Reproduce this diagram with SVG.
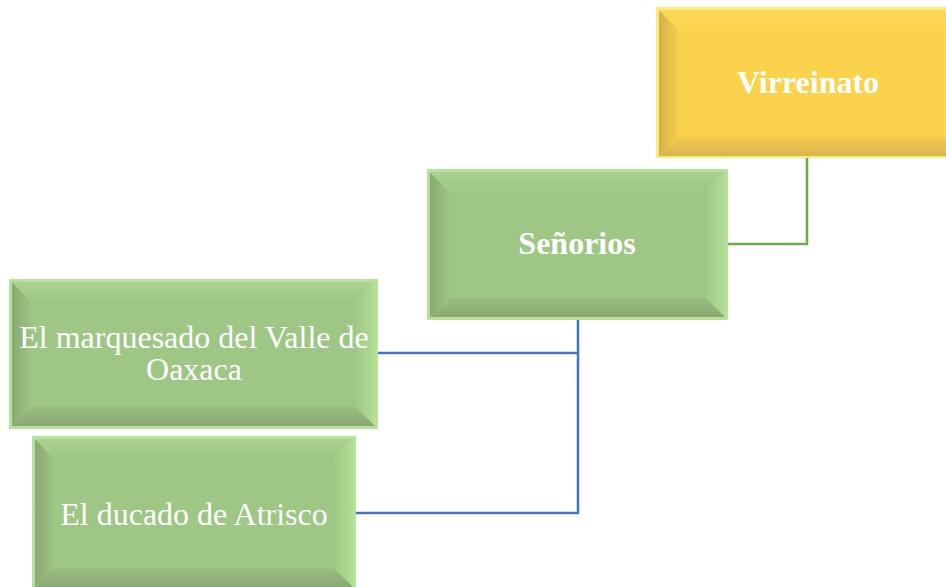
<svg xmlns="http://www.w3.org/2000/svg" width="946" height="587" viewBox="0 0 946 587">
<defs>
<linearGradient id="gLg" x1="0" y1="0" x2="1" y2="0"><stop offset="0" stop-color="#8aa973"/><stop offset="1" stop-color="#9cc383"/></linearGradient>
<linearGradient id="gRg" x1="0" y1="0" x2="1" y2="0"><stop offset="0" stop-color="#a0c987"/><stop offset="1" stop-color="#b0df93"/></linearGradient>
<linearGradient id="gTg" x1="0" y1="0" x2="0" y2="1"><stop offset="0" stop-color="#aad490"/><stop offset="1" stop-color="#9ec685"/></linearGradient>
<linearGradient id="gBg" x1="0" y1="0" x2="0" y2="1"><stop offset="0" stop-color="#98bd80"/><stop offset="1" stop-color="#8ba973"/></linearGradient>
<linearGradient id="yLg" x1="0" y1="0" x2="1" y2="0"><stop offset="0" stop-color="#d4b04c"/><stop offset="1" stop-color="#f5cd4b"/></linearGradient>
<linearGradient id="yTg" x1="0" y1="0" x2="0" y2="1"><stop offset="0" stop-color="#fdd95a"/><stop offset="1" stop-color="#fbd24c"/></linearGradient>
<linearGradient id="yBg" x1="0" y1="0" x2="0" y2="1"><stop offset="0" stop-color="#f2ca4b"/><stop offset="1" stop-color="#d8b44e"/></linearGradient>
<style>
.t{font-family:"Liberation Serif","Times New Roman",serif;fill:#fff;text-anchor:middle;font-size:32px}
.b{font-weight:bold}
.gOut{fill:#b6e29c}
.gFace{fill:#9ec685}
.gL{fill:url(#gLg)}
.gT{fill:url(#gTg)}
.gR{fill:url(#gRg)}
.gB{fill:url(#gBg)}
.yOut{fill:#fdec7a}
.yFace{fill:#fbd24b}
.yL{fill:url(#yLg)}
.yT{fill:url(#yTg)}
.yB{fill:url(#yBg)}
.c{fill:none;stroke-width:2.5}
</style>
</defs>
<rect width="946" height="587" fill="#fff"/>
<g id="connectors">
<polyline class="c" stroke="#6aac46" points="807,157 807,244 727,244"/>
<polyline class="c" stroke="#4472c4" points="578,319 578,513 355,513"/>
<polyline class="c" stroke="#4472c4" points="578,353 377,353"/>
</g>
<g id="virreinato">
<rect class="yOut" x="656" y="7" width="292" height="151"/>
<polygon class="yL" points="659,10 678,29 678,137 659,156"/>
<polygon class="yT" points="659,10 948,10 948,29 678,29"/>
<polygon class="yB" points="659,156 678,137 948,137 948,156"/>
<rect class="yFace" x="678" y="29" width="270" height="108"/>
<text class="t b" x="808" y="93">Virreinato</text>
</g>
<g id="senorios">
<rect class="gOut" x="427" y="169" width="301" height="151"/>
<polygon class="gL" points="430,172 449,191 449,298 430,317"/>
<polygon class="gT" points="430,172 725,172 706,191 449,191"/>
<polygon class="gR" points="725,172 725,317 706,298 706,191"/>
<polygon class="gB" points="430,317 449,298 706,298 725,317"/>
<rect class="gFace" x="449" y="191" width="257" height="107"/>
<text class="t b" x="577" y="254">Señorios</text>
</g>
<g id="marquesado">
<rect class="gOut" x="9" y="279" width="369" height="150"/>
<polygon class="gL" points="12,282 31,301 31,407 12,426"/>
<polygon class="gT" points="12,282 375,282 356,301 31,301"/>
<polygon class="gR" points="375,282 375,426 356,407 356,301"/>
<polygon class="gB" points="12,426 31,407 356,407 375,426"/>
<rect class="gFace" x="31" y="301" width="325" height="106"/>
<text class="t" x="194" y="348">El marquesado del Valle de</text>
<text class="t" x="194" y="380">Oaxaca</text>
</g>
<g id="atrisco">
<rect class="gOut" x="32" y="436" width="324" height="152"/>
<polygon class="gL" points="35,439 54,458 54,568 35,587"/>
<polygon class="gT" points="35,439 353,439 334,458 54,458"/>
<polygon class="gR" points="353,439 353,587 334,568 334,458"/>
<polygon class="gB" points="35,587 54,568 334,568 353,587"/>
<rect class="gFace" x="54" y="458" width="280" height="110"/>
<text class="t" x="194" y="525">El ducado de Atrisco</text>
</g>
</svg>
